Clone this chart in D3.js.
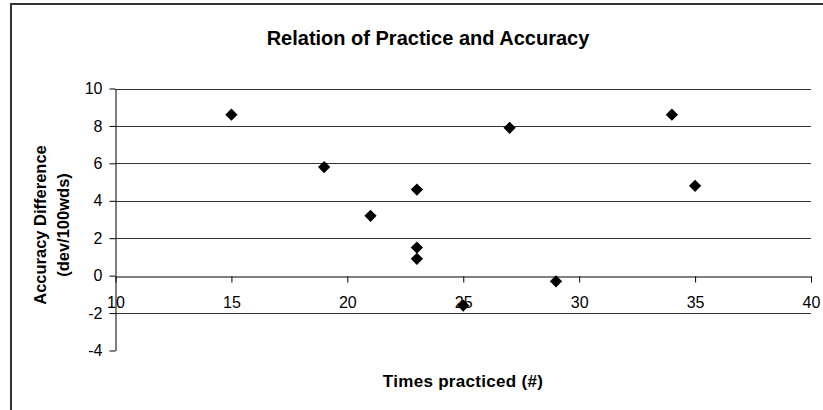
<!DOCTYPE html>
<html lang="en">
<meta charset="utf-8">
<head>
    <script src="https://d3js.org/d3.v7.min.js"></script>
    <style>
        body { margin: 0; background: #fff; }
        text { font-family: "Liberation Sans", Arial, sans-serif; fill: #000; }
    </style>
</head>
<body>
<svg width="823" height="410"></svg>
<script>
// data
var timesPracticed = [15, 19, 21, 23, 23, 23, 25, 27, 29, 34, 35];
var accuracyDiff   = [8.6, 5.8, 3.2, 4.6, 1.5, 0.9, -1.6, 7.9, -0.3, 8.6, 4.8];
var xTicks = [10, 15, 20, 25, 30, 35, 40];
var yTicks = [-4, -2, 0, 2, 4, 6, 8, 10];

var svg = d3.select("svg");

// outer chart border (only top/left visible in frame)
svg.append("rect")
    .attr("x", 11).attr("y", 4)
    .attr("width", 830).attr("height", 420)
    .attr("fill", "none")
    .attr("stroke", "#333")
    .attr("stroke-width", 2);

// scales
var x = d3.scaleLinear().domain([10, 40]).range([115.5, 811]);
var y = d3.scaleLinear().domain([-4, 10]).range([350.5, 88.5]);

// title
svg.append("text")
    .attr("x", 428).attr("y", 45)
    .attr("text-anchor", "middle")
    .attr("font-size", "20px")
    .attr("font-weight", "bold")
    .text("Relation of Practice and Accuracy");

// horizontal gridlines
svg.append("g").selectAll("line")
    .data(yTicks.filter(function(d) { return d !== -4 && d !== 0; }))
    .enter().append("line")
    .attr("x1", x(10)).attr("x2", x(40))
    .attr("y1", function(d) { return Math.round(y(d)) + 0.5; })
    .attr("y2", function(d) { return Math.round(y(d)) + 0.5; })
    .attr("stroke", "#333")
    .attr("stroke-width", 1);

// y axis (plain hyphen for negatives, like the original)
var yAxis = svg.append("g")
    .attr("transform", "translate(" + x(10) + ",0)")
    .call(d3.axisLeft(y).tickValues(yTicks).tickFormat(String)
        .tickSize(6).tickSizeOuter(0).tickPadding(7));
yAxis.attr("font-size", 16).attr("font-family", "Liberation Sans, Arial, sans-serif");

// x axis crossing at y = 0
var xAxis = svg.append("g")
    .attr("transform", "translate(0," + (Math.round(y(0)) + 0.5) + ")")
    .call(d3.axisBottom(x).tickValues(xTicks).tickFormat(String)
        .tickSize(6).tickSizeOuter(0).tickPadding(14));
xAxis.attr("font-size", 16).attr("font-family", "Liberation Sans, Arial, sans-serif");

svg.selectAll(".domain").attr("stroke", "#000");
svg.selectAll(".tick line").attr("stroke", "#000");

// axis titles
svg.append("text")
    .attr("x", 463).attr("y", 387)
    .attr("text-anchor", "middle")
    .attr("font-size", "17px")
    .attr("font-weight", "bold")
    .attr("letter-spacing", "0.3px")
    .text("Times practiced (#)");

var yTitle = svg.append("text")
    .attr("transform", "translate(46,225) rotate(-90)")
    .attr("text-anchor", "middle")
    .attr("font-size", "16.5px")
    .attr("font-weight", "bold");
yTitle.append("tspan").attr("x", 0).attr("dy", 0).text("Accuracy Difference");
yTitle.append("tspan").attr("x", 0).attr("dy", "1.4em").text("(dev/100wds)");

// diamond markers
var diamond = d3.symbol().type(d3.symbolSquare).size(75);
svg.append("g").selectAll("path")
    .data(timesPracticed.map(function(d, i) { return { x: d, y: accuracyDiff[i] }; }))
    .enter().append("path")
    .attr("d", diamond)
    .attr("transform", function(d) {
        return "translate(" + x(d.x) + "," + y(d.y) + ") rotate(45)";
    })
    .attr("fill", "#000");
</script>
</body>
</html>
